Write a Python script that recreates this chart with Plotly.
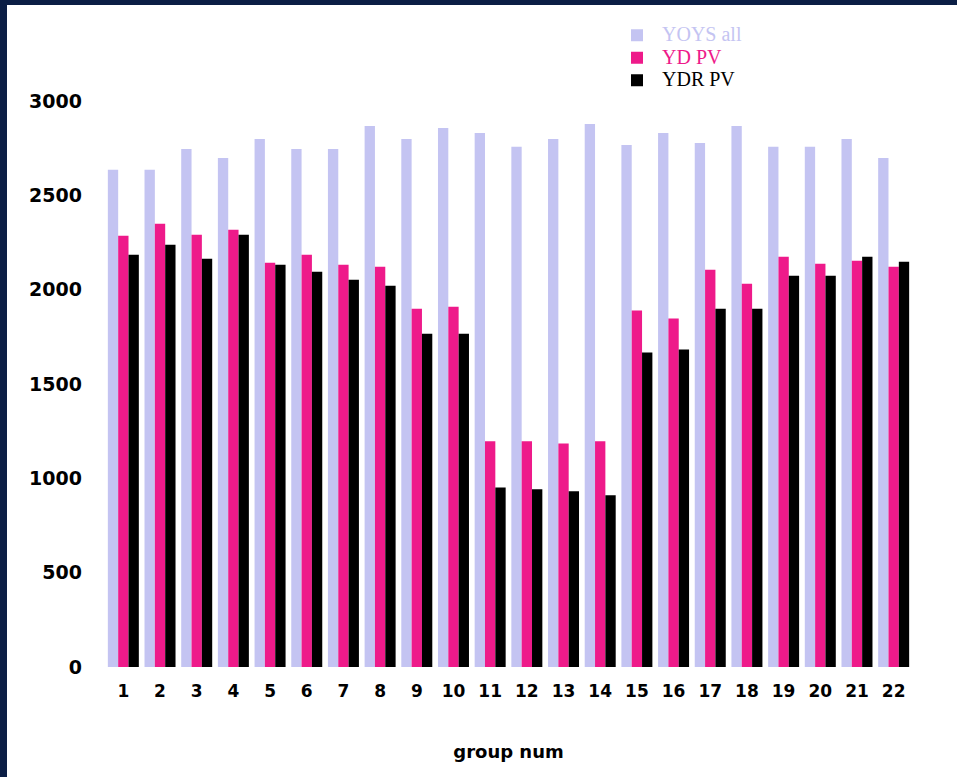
import plotly.graph_objects as go

categories = [str(i) for i in range(1, 23)]
yoys_all = [2635, 2635, 2746, 2698, 2799, 2746, 2746, 2868, 2799, 2857, 2831,
            2757, 2799, 2878, 2767, 2831, 2778, 2868, 2757, 2757, 2799, 2698]
yd_pv = [2286, 2349, 2291, 2317, 2143, 2185, 2132, 2122, 1899, 1910, 1196,
         1196, 1185, 1196, 1889, 1847, 2106, 2032, 2175, 2138, 2153, 2122]
ydr_pv = [2185, 2238, 2164, 2291, 2132, 2095, 2053, 2021, 1767, 1767, 952,
          942, 931, 910, 1667, 1683, 1899, 1899, 2074, 2074, 2175, 2148]
y_ticks = [0, 500, 1000, 1500, 2000, 2500, 3000]

C_LAV = "#c4c4f2"
C_PINK = "#ee1a8a"
C_BLACK = "#000000"
NAVY = "#0b1e45"

def legend_name(text, color):
    return f"<span style='color:{color};font-size:20px'>{text}</span>"

fig = go.Figure()
fig.add_trace(go.Bar(x=categories, y=yoys_all, marker_color=C_LAV, marker_line_width=0,
                     name=legend_name("YOYS all", C_LAV)))
fig.add_trace(go.Bar(x=categories, y=yd_pv, marker_color=C_PINK, marker_line_width=0,
                     name=legend_name("YD PV", C_PINK)))
fig.add_trace(go.Bar(x=categories, y=ydr_pv, marker_color=C_BLACK, marker_line_width=0,
                     name=legend_name("YDR PV", C_BLACK)))

L, R, T, B = 105, 45, 101, 110
W, H = 957, 777
pw = W - L - R
ph = H - T - B

def px_x(p):
    return (p - L) / pw

def px_y(p):
    return (H - B - p) / ph

shapes = [
    dict(type="rect", xref="paper", yref="paper", x0=px_x(-5), x1=px_x(7),
         y0=px_y(H + 5), y1=px_y(-5), fillcolor=NAVY, line_width=0, layer="above"),
    dict(type="rect", xref="paper", yref="paper", x0=px_x(-5), x1=px_x(W + 5),
         y0=px_y(5), y1=px_y(-5), fillcolor=NAVY, line_width=0, layer="above"),
]

fig.update_layout(
    width=W, height=H,
    margin=dict(l=L, r=R, t=T, b=B, pad=0),
    paper_bgcolor="white", plot_bgcolor="white",
    barmode="group", bargap=0.155, bargroupgap=0,
    showlegend=True,
    legend=dict(x=px_x(612), y=px_y(19), xanchor="left", yanchor="top",
                font=dict(family="Liberation Serif", size=15, color="black"),
                itemwidth=40, tracegroupgap=0, bgcolor="rgba(0,0,0,0)"),
    shapes=shapes,
    xaxis=dict(showgrid=False, showline=False, zeroline=False, ticks="",
               tickfont=dict(family="DejaVu Sans", size=17, color="black", weight="bold"),
               ticklabelstandoff=12,
               title=dict(text="group num", standoff=45,
                          font=dict(family="DejaVu Sans", size=18, color="black", weight="bold"))),
    yaxis=dict(range=[0, 3000], tickvals=y_ticks, showgrid=False, showline=False,
               zeroline=False, ticks="",
               tickfont=dict(family="DejaVu Sans", size=19, color="black", weight="bold"),
               ticklabelstandoff=22),
)

fig.write_html("out.html", config={"displayModeBar": False},
               post_script="document.body.style.margin='0';document.body.style.overflow='hidden';")
